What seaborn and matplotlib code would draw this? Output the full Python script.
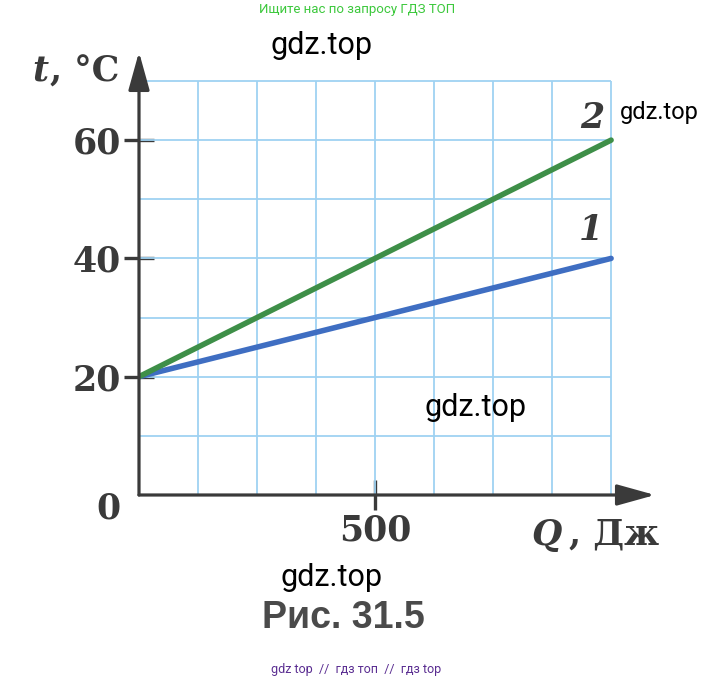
import numpy as np
import pandas as pd
import matplotlib
matplotlib.use('Agg')
import matplotlib.pyplot as plt
import seaborn as sns

# data
heat_q = [0, 1000]            # Q, Дж
temp_1 = [20, 40]             # line 1
temp_2 = [20, 60]             # line 2
y_ticks = [20, 40, 60]
x_ticks = [500]
x_grid = [125, 250, 375, 500, 625, 750, 875, 1000]
y_grid = [10, 20, 30, 40, 50, 60, 70]

sns.set_style('white')

axis_col = '#3a3a3a'
grid_col = '#9fd2f2'
serif = ['DejaVu Serif']

fig = plt.figure(figsize=(7.15, 6.82), dpi=100)
ax = fig.add_axes([0.1944, 0.2742, 0.7217, 0.6496])
ax.set_xlim(0, 1093)
ax.set_ylim(0, 74.9)

# grid only inside 0..1000 x 0..70
ax.vlines(x_grid, 0, max(y_grid), color=grid_col, lw=1.3, zorder=1)
ax.hlines(y_grid, 0, max(x_grid), color=grid_col, lw=1.3, zorder=1)

df = pd.DataFrame({'Q': heat_q * 2,
                   't': temp_1 + temp_2,
                   'line': ['1'] * 2 + ['2'] * 2})
sns.lineplot(data=df, x='Q', y='t', hue='line',
             palette={'1': '#3f6ec2', '2': '#3e8f48'},
             linewidth=4, legend=False, ax=ax, zorder=3)

for s in ax.spines.values():
    s.set_visible(False)

arrow = dict(arrowstyle='-|>,head_length=0.9,head_width=0.25', lw=2.3,
             color=axis_col, mutation_scale=26, shrinkA=0, shrinkB=0)
ax.annotate('', xy=(1, 0), xytext=(0, 0), xycoords='axes fraction',
            arrowprops=arrow, zorder=4)
ax.annotate('', xy=(0, 1), xytext=(0, 0), xycoords='axes fraction',
            arrowprops=arrow, zorder=4)

ax.set_yticks(y_ticks)
ax.set_xticks(x_ticks)
ax.tick_params(axis='both', direction='inout', length=22, width=2.4,
               left=True, bottom=True,
               color=axis_col, labelsize=25, labelcolor=axis_col, pad=2)
for lab in ax.get_xticklabels() + ax.get_yticklabels():
    lab.set_family(serif)
    lab.set_fontweight('bold')
ax.set_xlabel('')
ax.set_ylabel('')

ax.text(-0.06, -0.03, '0', transform=ax.transAxes, ha='center', va='center',
        fontsize=25, fontweight='bold', family=serif, color=axis_col)


def ftext(x, y, s, **kw):
    fig.text(x / 715, 1 - y / 682, s, va='center', fontsize=25,
             fontweight='bold', family=serif, color=axis_col, **kw)


# axis names: italic letter + upright unit
ftext(32, 72, 't', ha='left', style='italic')
ftext(119, 72, ', °C', ha='right')
ftext(531, 535, 'Q', ha='left', style='italic')
ftext(659, 535, ', Дж', ha='right')

# line numbers
ftext(592, 118, '2', ha='center', style='italic')
ftext(591, 230, '1', ha='center', style='italic')

fig.text(343 / 715, 1 - 618 / 682, 'Рис. 31.5', ha='center', va='center',
         fontsize=27, fontweight='bold', family=['Liberation Sans'], color='#4a4a4a')

for (cx, cy, fs) in [(322, 45, 22), (659, 113, 17), (476, 408, 22), (331, 577, 22)]:
    fig.text(cx / 715, 1 - cy / 682, 'gdz.top', ha='center', va='center',
             fontsize=fs, family=['Roboto'], color='black')

fig.text(357 / 715, 1 - 10 / 682, 'Ищите нас по запросу ГДЗ ТОП', ha='center',
         va='center', fontsize=9.5, family=['Roboto'], color='#3cc83c')
fig.text(356 / 715, 1 - 670 / 682, 'gdz top  //  гдз топ  //  гдз top', ha='center',
         va='center', fontsize=9, family=['Roboto'], color='#5a2d91')

fig.savefig('out.png', dpi=100)
